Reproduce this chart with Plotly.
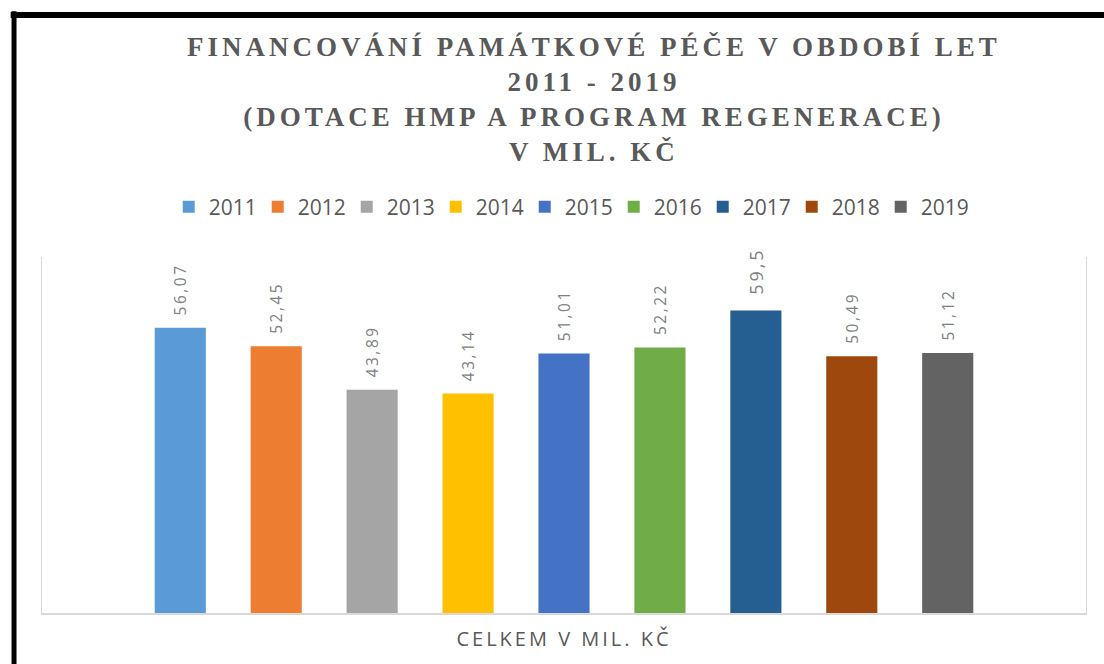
import plotly.graph_objects as go

years = ["2011", "2012", "2013", "2014", "2015", "2016", "2017", "2018", "2019"]
values = [56.07, 52.45, 43.89, 43.14, 51.01, 52.22, 59.5, 50.49, 51.12]
colors = ["#5B9BD5", "#ED7D31", "#A5A5A5", "#FFC000", "#4472C4",
          "#70AD47", "#255E91", "#9E480E", "#636363"]
category = ["CELKEM V MIL. KČ"]

title_lines = [
    "FINANCOVÁNÍ PAMÁTKOVÉ PÉČE V OBDOBÍ LET",
    "2011 - 2019",
    "(DOTACE HMP A PROGRAM REGENERACE)",
    "V MIL. KČ",
]

fig = go.Figure()
for year, val, col in zip(years, values, colors):
    label = f"{val:g}".replace(".", ",")
    fig.add_trace(go.Bar(
        name=year,
        x=category,
        y=[val],
        marker=dict(color=col, line=dict(width=0)),
        text=["\u00a0\u00a0\u00a0" + label],
        textposition="outside",
        textangle=-90,
        textfont=dict(family="Open Sans", size=18, color="#808080"),
        cliponaxis=False,
    ))

fig.update_layout(
    width=1104,
    height=664,
    paper_bgcolor="white",
    plot_bgcolor="white",
    barmode="group",
    bargap=0.173,
    bargroupgap=0.467,
    margin=dict(l=42, r=18, t=257, b=51),
    title=dict(
        text="<br>".join(title_lines),
        font=dict(family="Liberation Serif", size=27, color="#595959", weight="bold"),
        x=0.538,
        xanchor="center",
        xref="container",
        y=1 - 56 / 664,
        yanchor="top",
        yref="container",
    ),
    legend=dict(
        orientation="h",
        x=0.505,
        xanchor="center",
        y=1.14,
        yanchor="middle",
        font=dict(family="Open Sans", size=21, color="#595959"),
        entrywidth=44,
        entrywidthmode="pixels",
    ),
    showlegend=True,
    shapes=[
        dict(type="line", xref="paper", yref="paper",
             x0=-0.0268, x1=-0.0268, y0=1.69, y1=-0.2,
             line=dict(color="black", width=5)),
        dict(type="line", xref="paper", yref="paper",
             x0=-0.03, x1=1.05, y0=1.68, y1=1.68,
             line=dict(color="black", width=6)),
    ],
)

fig.update_xaxes(
    showline=True,
    linecolor="#d9d9d9",
    linewidth=1.5,
    ticks="",
    ticklabelstandoff=7,
    tickfont=dict(family="Open Sans", size=20, color="#595959"),
    showgrid=False,
)
fig.update_yaxes(
    range=[0, 70],
    showline=True,
    mirror=True,
    linecolor="#d9d9d9",
    linewidth=1,
    showticklabels=False,
    ticks="",
    showgrid=False,
    zeroline=False,
)

spacing_js = """
document.body.style.margin = '0';
document.querySelectorAll('.gtitle').forEach(function(e){e.style.letterSpacing='4px';});
document.querySelectorAll('.xtick text').forEach(function(e){e.style.letterSpacing='3px';});
document.querySelectorAll('text.bartext').forEach(function(e){e.style.letterSpacing='3px';});
"""

fig.write_html("out.html", post_script=spacing_js, config={"displayModeBar": False})
